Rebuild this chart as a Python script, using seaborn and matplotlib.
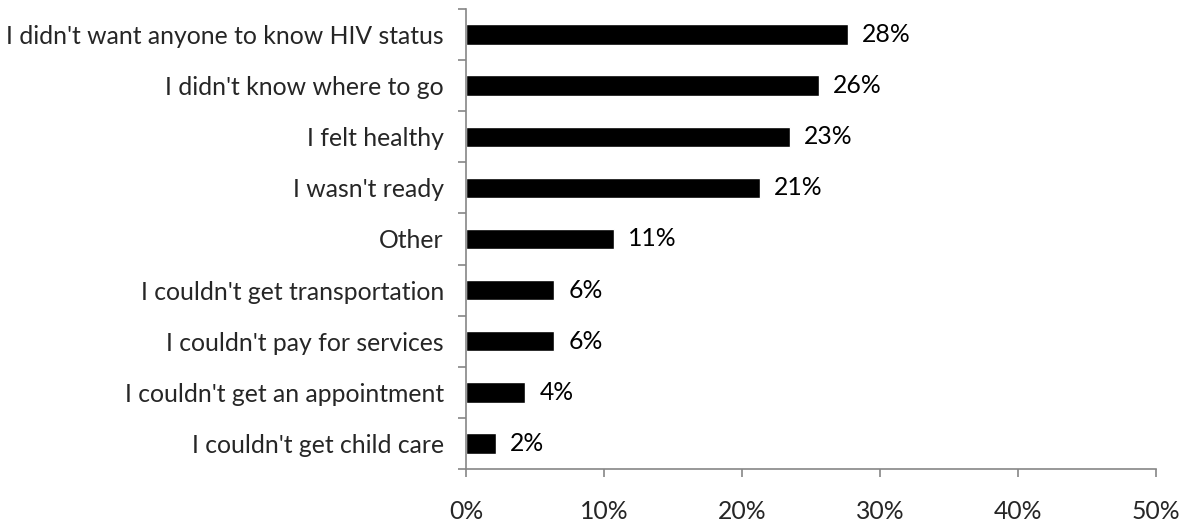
import matplotlib
matplotlib.use("Agg")
import matplotlib.pyplot as plt
import seaborn as sns
import pandas as pd
import numpy as np
from matplotlib.ticker import FixedLocator

categories = [
    "I didn't want anyone to know HIV status",
    "I didn't know where to go",
    "I felt healthy",
    "I wasn't ready",
    "Other",
    "I couldn't get transportation",
    "I couldn't pay for services",
    "I couldn't get an appointment",
    "I couldn't get child care",
]
values = [27.7, 25.6, 23.5, 21.3, 10.7, 6.4, 6.4, 4.3, 2.2]
labels = ["28%", "26%", "23%", "21%", "11%", "6%", "6%", "4%", "2%"]
xticks = [0, 10, 20, 30, 40, 50]
xticklabels = ["0%", "10%", "20%", "30%", "40%", "50%"]

sns.set_theme(style="white")
plt.rcParams['font.family'] = ['Lato', 'DejaVu Sans']

df = pd.DataFrame({"cat": categories, "val": values})

FS = 17.8
fig = plt.figure(figsize=(11.88, 5.26), dpi=100)
ax = fig.add_axes([0.3923, 0.1084, 0.9731 - 0.3923, 0.9829 - 0.1084])
sns.barplot(data=df, y="cat", x="val", orient="h", color="black",
            width=0.4, ax=ax, saturation=1)

for i, (v, lab) in enumerate(zip(values, labels)):
    ax.annotate(lab, xy=(v, i), xytext=(10, 0), textcoords="offset points",
                va="center", ha="left", fontsize=FS, color="black")

ax.set_xlim(0, 50)
ax.set_ylim(len(categories) - 0.5, -0.5)
ax.set_xticks(xticks)
ax.set_xticklabels(xticklabels, fontsize=FS)
ax.set_xlabel("")
ax.set_ylabel("")
ax.tick_params(axis="y", which="major", length=0, pad=16, labelsize=FS)
ax.yaxis.set_minor_locator(FixedLocator(np.arange(-0.5, len(categories), 1.0)))
ax.tick_params(axis="y", which="minor", length=6, width=1.2, color="#868686", left=True)
ax.tick_params(axis="x", which="major", length=6, width=1.2, color="#868686", pad=16, bottom=True)

for s in ["top", "right"]:
    ax.spines[s].set_visible(False)
for s in ["left", "bottom"]:
    ax.spines[s].set_color("#868686")
    ax.spines[s].set_linewidth(1.2)

fig.savefig("out.png", dpi=100)
